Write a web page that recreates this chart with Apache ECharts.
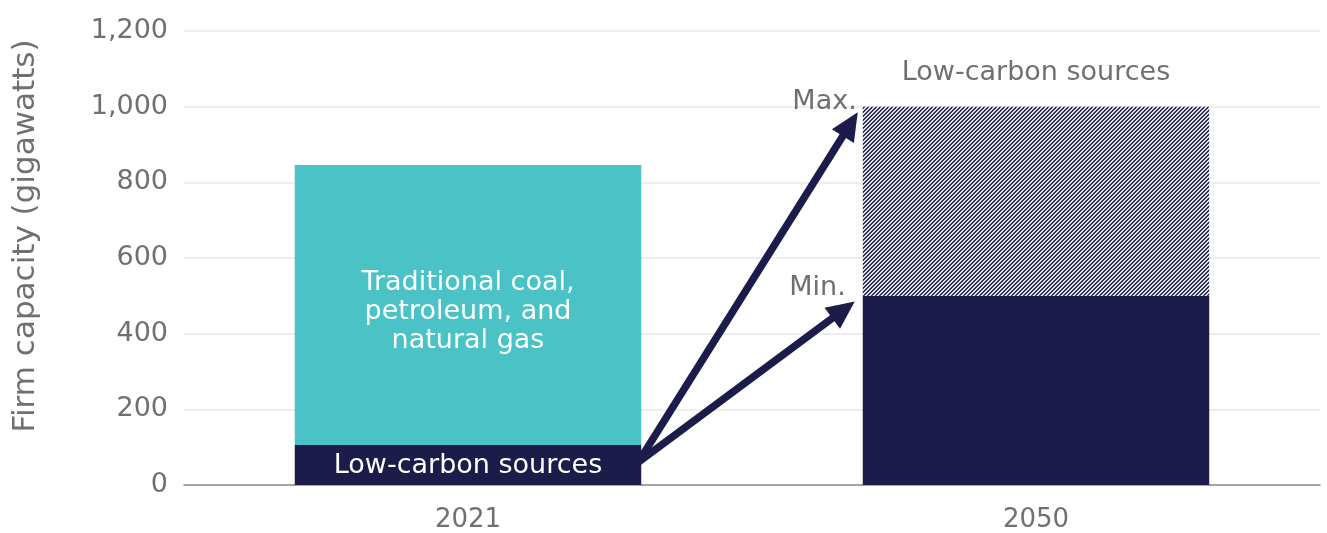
<!DOCTYPE html>
<html><head><meta charset="utf-8">
<script src="https://cdn.jsdelivr.net/npm/echarts@6/dist/echarts.min.js"></script>
<style>html,body{margin:0;padding:0;background:#fff}#c{width:1327px;height:533px}</style>
</head><body><div id="c"></div>
<script>
const categories = ['2021', '2050'];
const lowCarbon = [106, 500];
const traditional = [740, 0];
const lowCarbonMaxExtra = [0, 500];
const yTicks = [0, 200, 400, 600, 800, 1000, 1200];
const arrowStartValue = 60;
const arrowMaxEndValue = 985;
const arrowMinEndValue = 485;

const NAVY = '#1b1c4a';
const TEAL = '#4bc3c6';
const GRAY = '#707070';
const FONT = 'DejaVu Sans';
const FS = 27;
const FW = 'normal';

// hatch pattern
const tile = document.createElement('canvas');
tile.width = 4; tile.height = 4;
const tctx = tile.getContext('2d');
const img = tctx.createImageData(4, 4);
for (let y = 0; y < 4; y++) for (let x = 0; x < 4; x++) {
  const m = (x + y) % 4;
  let c = [27, 28, 74];
  if (m === 0) c = [250, 250, 252];
  else if (m === 1) c = [195, 198, 218];
  else if (m === 3) c = [70, 72, 112];
  const i = (y * 4 + x) * 4;
  img.data[i] = c[0]; img.data[i+1] = c[1]; img.data[i+2] = c[2]; img.data[i+3] = 255;
}
tctx.putImageData(img, 0, 0);

const chart = echarts.init(document.getElementById('c'));
const BW = 0.61;
chart.setOption({
  animation: false,
  textStyle: { fontFamily: FONT },
  grid: { left: 184, right: 7, top: 31, bottom: 48 },
  xAxis: {
    type: 'category', data: categories,
    axisLine: { lineStyle: { color: '#8c8c8c', width: 1.5 } },
    axisTick: { show: false },
    axisLabel: { color: GRAY, fontSize: 26, margin: 22, fontFamily: FONT, fontWeight: FW }
  },
  yAxis: {
    type: 'value', min: 0, max: 1200, interval: 200,
    name: 'Firm capacity (gigawatts)', nameLocation: 'middle', nameGap: 143,
    nameTextStyle: { color: GRAY, fontSize: 31, fontFamily: FONT, fontWeight: FW, padding: [0, 0, 0, 44] },
    axisLine: { show: false }, axisTick: { show: false },
    axisLabel: { color: GRAY, fontSize: FS, margin: 16, fontFamily: FONT, fontWeight: FW,
      formatter: v => yTicks.includes(v) ? v.toLocaleString('en-US') : '' },
    splitLine: { lineStyle: { color: '#e8e8e8', width: 1.5 } }
  },
  series: [
    { name: 'Low-carbon sources', type: 'bar', stack: 's', barWidth: (BW * 100) + '%',
      data: lowCarbon, itemStyle: { color: NAVY },
      label: { show: true, position: 'inside', offset: [0, 1], color: '#fff', fontSize: FS, fontFamily: FONT, fontWeight: FW,
        formatter: p => p.dataIndex === 0 ? 'Low-carbon sources' : '' } },
    { name: 'Traditional', type: 'bar', stack: 's', data: traditional, itemStyle: { color: TEAL },
      label: { show: true, position: 'inside', offset: [0, 7], color: '#fff', fontSize: FS, lineHeight: 29, fontFamily: FONT, fontWeight: FW,
        formatter: p => p.dataIndex === 0 ? 'Traditional coal,\npetroleum, and\nnatural gas' : '' } },
    { name: 'Low-carbon max', type: 'bar', stack: 's', data: lowCarbonMaxExtra,
      itemStyle: { color: { image: tile, repeat: 'repeat' } },
      label: { show: true, position: 'top', distance: 20, color: GRAY, fontSize: FS, fontFamily: FONT, fontWeight: FW,
        formatter: p => p.dataIndex === 1 ? 'Low-carbon sources' : '' } }
  ]
});

function arrow(x1, y1, x2, y2) {
  const ang = Math.atan2(y2 - y1, x2 - x1);
  const L = 28, W = 13;
  const bx = x2 - L * Math.cos(ang), by = y2 - L * Math.sin(ang);
  const px = -Math.sin(ang), py = Math.cos(ang);
  return [
    { type: 'line', shape: { x1, y1, x2: bx + 2 * Math.cos(ang), y2: by + 2 * Math.sin(ang) },
      style: { stroke: NAVY, lineWidth: 7.5 }, z: 100 },
    { type: 'polygon', shape: { points: [[x2, y2], [bx + px * W, by + py * W], [bx - px * W, by - py * W]] },
      style: { fill: NAVY }, z: 100 }
  ];
}
const c0 = chart.convertToPixel({ gridIndex: 0 }, [categories[0], 0]);
const c1 = chart.convertToPixel({ gridIndex: 0 }, [categories[1], 0]);
const catW = c1[0] - c0[0];
const half = catW * BW / 2;
const sx = c0[0] + half - 3;
const sy = chart.convertToPixel({ yAxisIndex: 0 }, arrowStartValue);
const exMax = c1[0] - half - 5, eyMax = chart.convertToPixel({ yAxisIndex: 0 }, arrowMaxEndValue);
const exMin = c1[0] - half - 8, eyMin = chart.convertToPixel({ yAxisIndex: 0 }, arrowMinEndValue);
const txt = { fill: GRAY, fontSize: FS, fontFamily: FONT, fontWeight: FW, align: 'right', verticalAlign: 'middle' };
chart.setOption({
  graphic: [
    ...arrow(sx, sy, exMax, eyMax),
    ...arrow(sx, sy, exMin, eyMin),
    { type: 'text', x: exMax - 1, y: eyMax - 10, style: Object.assign({ text: 'Max.' }, txt), z: 100 },
    { type: 'text', x: exMin - 9, y: eyMin - 14, style: Object.assign({ text: 'Min.' }, txt), z: 100 }
  ]
});
</script></body></html>
